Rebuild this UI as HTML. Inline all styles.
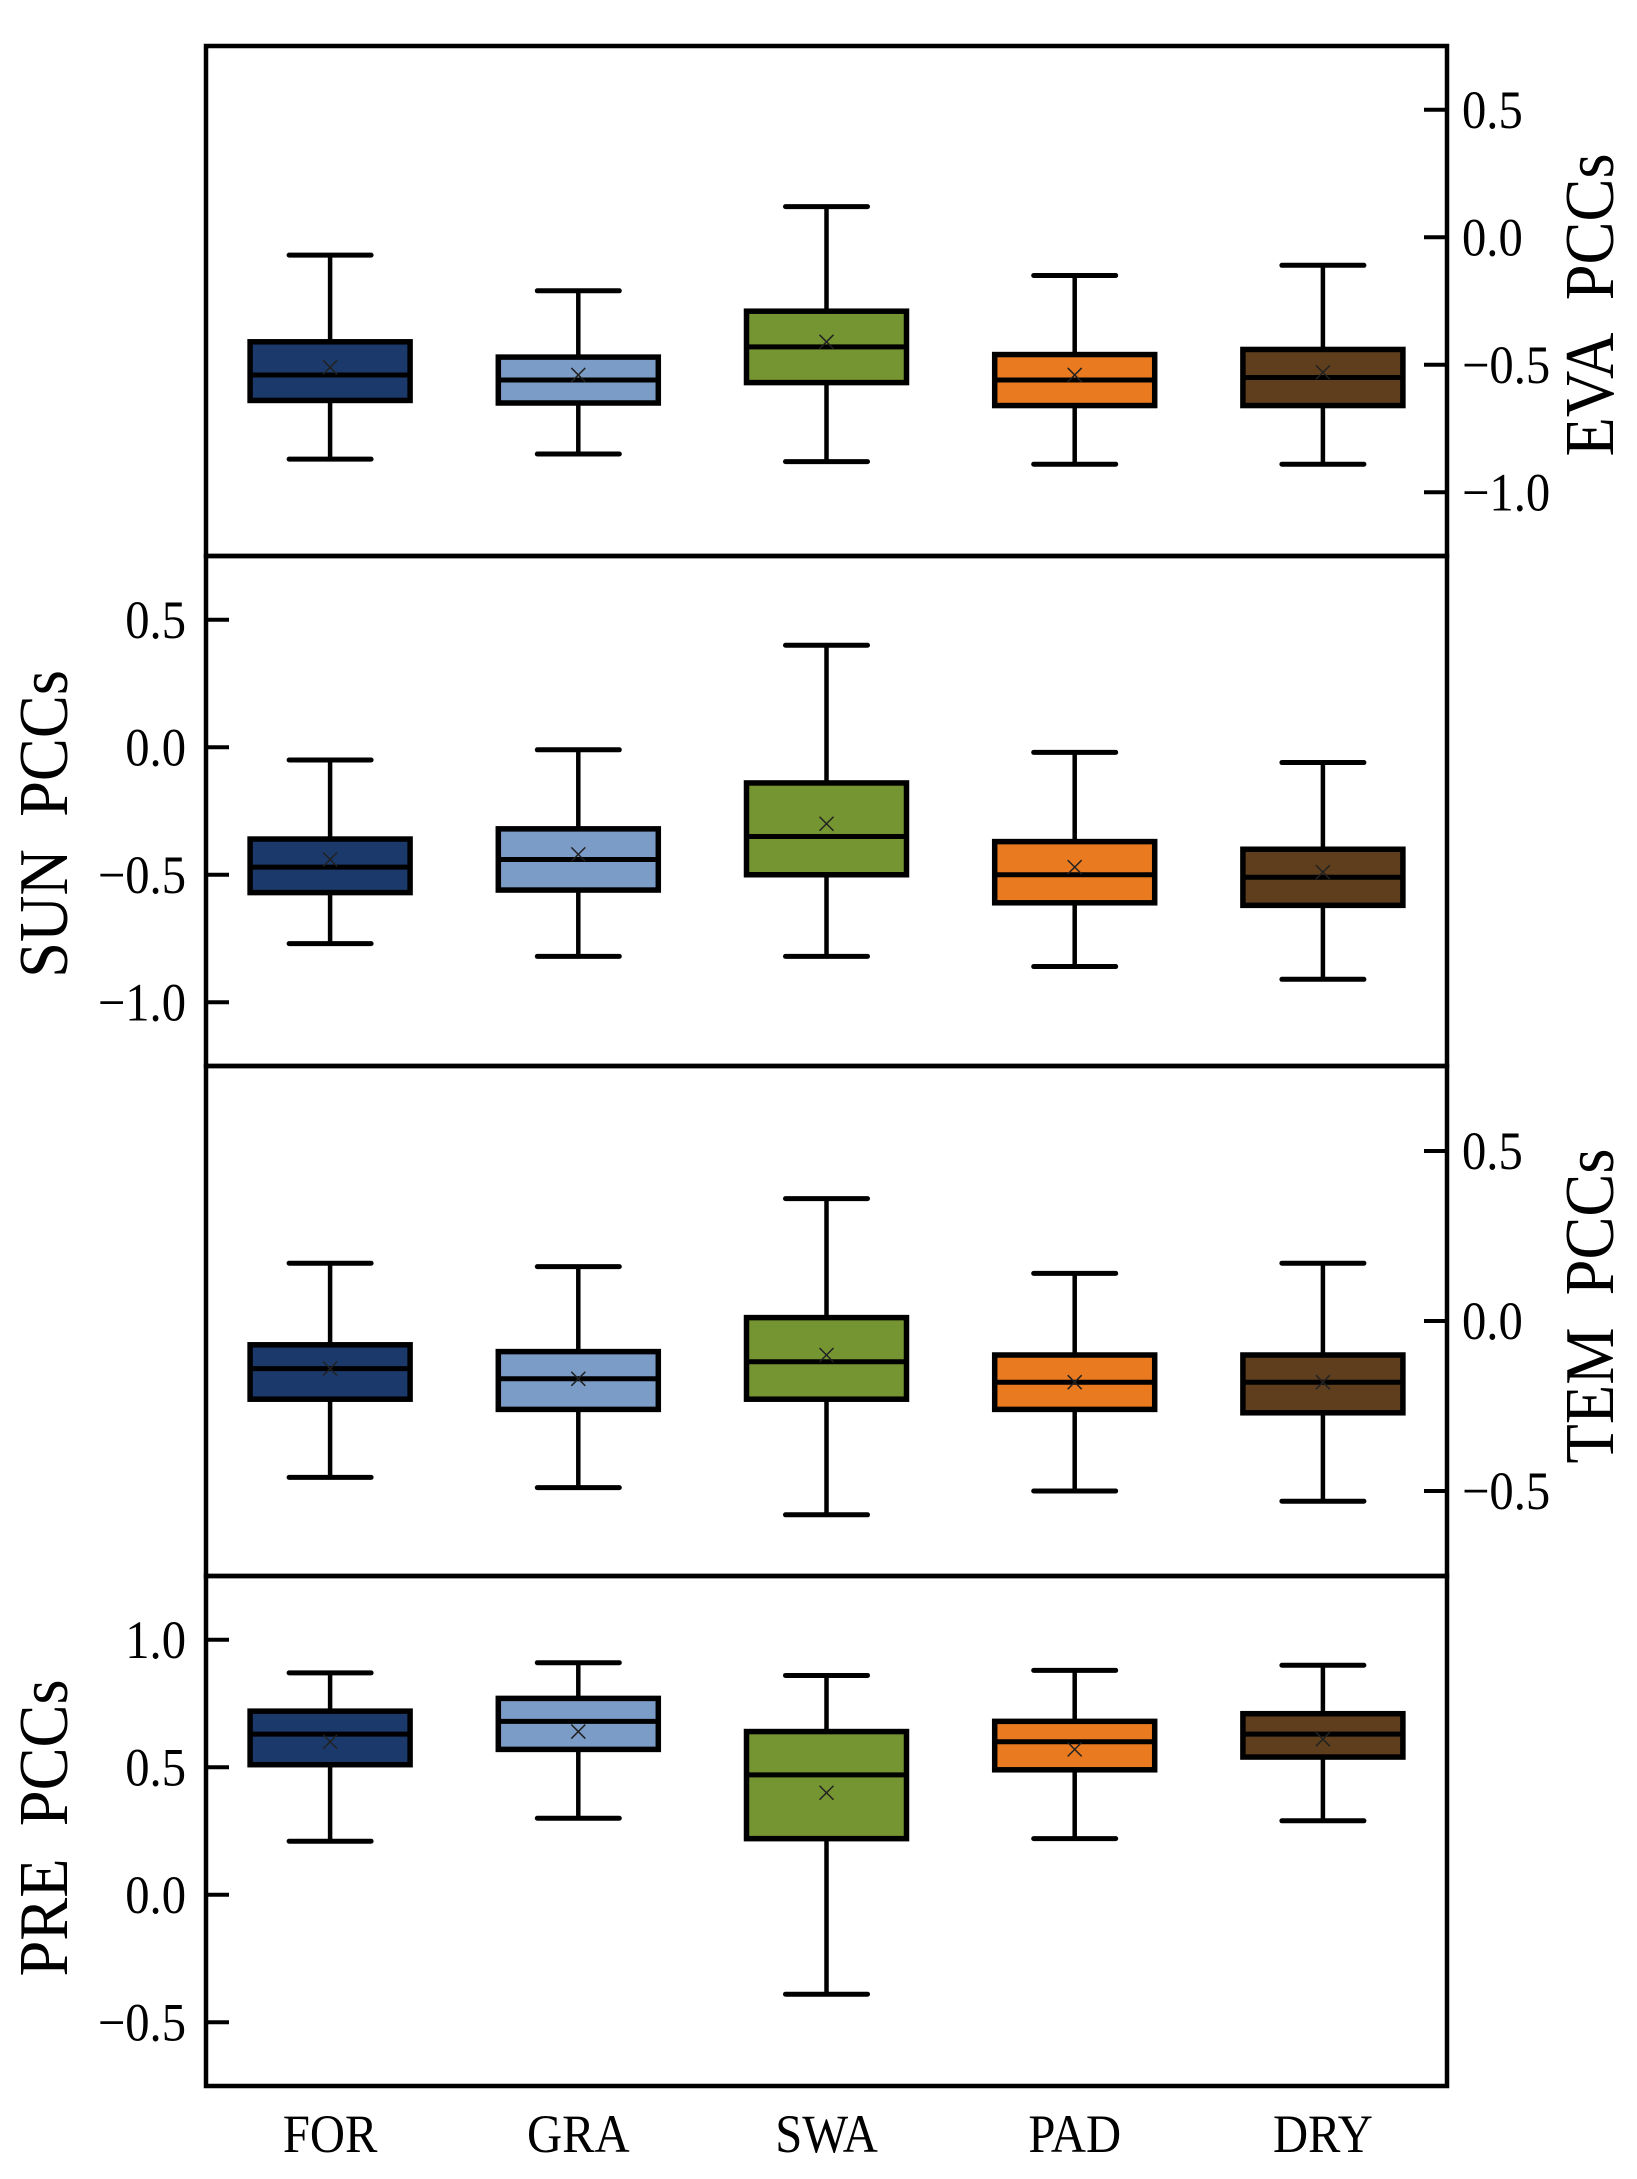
<!DOCTYPE html>
<html><head><meta charset="utf-8"><style>
html,body{margin:0;padding:0;background:#fff;}
svg{display:block;}
text{font-family:"Liberation Serif",serif;fill:#000;}
</style></head><body>
<svg id="chart" width="1637" height="2179" viewBox="0 0 1637 2179" xmlns="http://www.w3.org/2000/svg"></svg>
<script>
const categories = ["FOR","GRA","SWA","PAD","DRY"];
const colors = ["#1b3a6b","#7a9cc6","#759432","#ea7a1f","#5e3e1c"];
const panelNames = ["EVA","SUN","TEM","PRE"];
// per panel: [whiskerLow, q1, median, q3, whiskerHigh, mean] for each category
const evaStats = [[-0.87,-0.64,-0.54,-0.41,-0.07,-0.51],[-0.85,-0.65,-0.56,-0.47,-0.21,-0.54],[-0.88,-0.57,-0.43,-0.29,0.12,-0.41],[-0.89,-0.66,-0.56,-0.46,-0.15,-0.54],[-0.89,-0.66,-0.55,-0.44,-0.11,-0.53]];
const sunStats = [[-0.77,-0.57,-0.47,-0.36,-0.05,-0.44],[-0.82,-0.56,-0.44,-0.32,-0.01,-0.42],[-0.82,-0.50,-0.35,-0.14,0.40,-0.30],[-0.86,-0.61,-0.50,-0.37,-0.02,-0.47],[-0.91,-0.62,-0.51,-0.40,-0.06,-0.49]];
const temStats = [[-0.46,-0.23,-0.14,-0.07,0.17,-0.14],[-0.49,-0.26,-0.17,-0.09,0.16,-0.17],[-0.57,-0.23,-0.12,0.01,0.36,-0.10],[-0.50,-0.26,-0.18,-0.10,0.14,-0.18],[-0.53,-0.27,-0.18,-0.10,0.17,-0.18]];
const preStats = [[0.21,0.51,0.63,0.72,0.87,0.60],[0.30,0.57,0.68,0.77,0.91,0.64],[-0.39,0.22,0.47,0.64,0.86,0.40],[0.22,0.49,0.60,0.68,0.88,0.57],[0.29,0.54,0.63,0.71,0.90,0.61]];
const evaTicks = [0.5,0.0,-0.5,-1.0];
const sunTicks = [0.5,0.0,-0.5,-1.0];
const temTicks = [0.5,0.0,-0.5];
const preTicks = [1.0,0.5,0.0,-0.5];

const svg = document.getElementById('chart');
const NS = 'http://www.w3.org/2000/svg';
function mk(tag, attrs, parent){const e=document.createElementNS(NS,tag);for(const k in attrs)e.setAttribute(k,attrs[k]);(parent||svg).appendChild(e);return e;}
const L=206, R=1447, T=46, PH=510;
const panels=[
 {stats:evaStats,ticks:evaTicks,min:-1.25,max:0.75,side:'right',ty:305},
 {stats:sunStats,ticks:sunTicks,min:-1.25,max:0.75,side:'left',ty:824},
 {stats:temStats,ticks:temTicks,min:-0.75,max:0.75,side:'right',ty:1306},
 {stats:preStats,ticks:preTicks,min:-0.75,max:1.25,side:'left',ty:1828}
];
const xStep=(R-L)/5;
function xPos(i){return L+xStep*(i+0.5);}
function fmt(v){const s=Math.abs(v).toFixed(1);return (v<0?'\u2212':'')+s;}
function label(parent,x,y,str,anchor,size){
  const t=mk('text',{x:0,y:0,'font-size':size,'text-anchor':anchor,transform:`translate(${x} ${y}) scale(0.9 1)`},parent);
  t.textContent=str;
  return t;
}
panels.forEach((p,pi)=>{
  const top=T+pi*PH, bot=top+PH;
  const y=v=>bot-(v-p.min)/(p.max-p.min)*PH;
  const g=mk('g',{});
  
  
  p.ticks.forEach(t=>{
    const yy=y(t);
    let tx;
    if(p.side==='right'){
      mk('line',{x1:R-23,x2:R,y1:yy,y2:yy,stroke:'#000','stroke-width':4},g);
      tx=label(g,1462,yy+18,fmt(t),'start',54);
    } else {
      mk('line',{x1:L,x2:L+23,y1:yy,y2:yy,stroke:'#000','stroke-width':4},g);
      tx=label(g,186,yy+18,fmt(t),'end',54);
    }
    
    
  });
  const tx0 = p.side==='right'?1613:67;
  const title=mk('text',{x:0,y:0,'font-size':70,'text-anchor':'middle',transform:`translate(${tx0} ${p.ty}) rotate(-90) scale(0.92 1)`},g);
  title.textContent=panelNames[pi]+'\u00a0\u00a0PCCs';
  
  
  p.stats.forEach((s,i)=>{
    const cx=xPos(i), bw=160, cw=82;
    const bg=mk('g',{},g);
    
    
    mk('line',{x1:cx,x2:cx,y1:y(s[4]),y2:y(s[3]),stroke:'#000','stroke-width':4.5},bg);
    mk('line',{x1:cx,x2:cx,y1:y(s[1]),y2:y(s[0]),stroke:'#000','stroke-width':4.5},bg);
    mk('line',{x1:cx-cw/2,x2:cx+cw/2,y1:y(s[4]),y2:y(s[4]),stroke:'#000','stroke-width':5,'stroke-linecap':'round'},bg);
    mk('line',{x1:cx-cw/2,x2:cx+cw/2,y1:y(s[0]),y2:y(s[0]),stroke:'#000','stroke-width':5,'stroke-linecap':'round'},bg);
    mk('rect',{x:cx-bw/2,y:y(s[3]),width:bw,height:y(s[1])-y(s[3]),fill:colors[i],stroke:'#000','stroke-width':5.5},bg);
    mk('line',{x1:cx-bw/2,x2:cx+bw/2,y1:y(s[2]),y2:y(s[2]),stroke:'#000','stroke-width':5},bg);
    const my=y(s[5]), m=7;
    mk('path',{d:`M${cx-m} ${my-m}L${cx+m} ${my+m}M${cx-m} ${my+m}L${cx+m} ${my-m}`,stroke:'#222','stroke-width':1.5,fill:'none'},bg);
  });
  mk('rect',{x:L,y:top,width:R-L,height:PH,fill:'none',stroke:'#000','stroke-width':4.5},g);
});
categories.forEach((c,i)=>{
  const t=label(svg,xPos(i),2152,c,'middle',54);
  
  
});
</script>
</body></html>
